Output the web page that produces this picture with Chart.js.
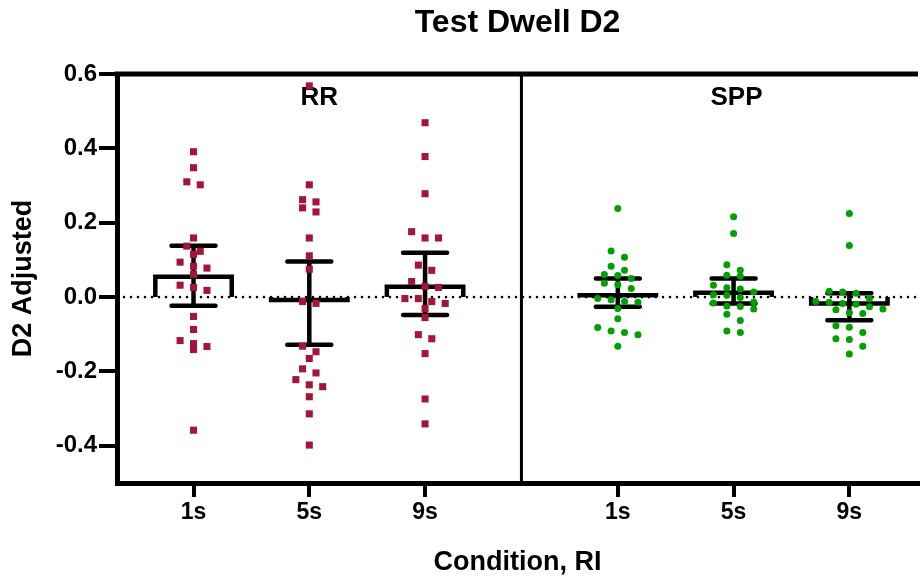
<!DOCTYPE html>
<html>
<head>
<meta charset="utf-8">
<title>Test Dwell D2</title>
<script src="https://cdn.jsdelivr.net/npm/chart.js@4"></script>
<style>
  html, body { margin: 0; padding: 0; background: #fff; overflow: hidden; }
  canvas { display: block; }
</style>
</head>
<body>
<canvas id="chart" width="923" height="579"></canvas>
<script>
// ---- values ----
const panels = ['RR', 'SPP'];
const conditions = ['1s', '5s', '9s'];
const yTicks = [-0.4, -0.2, 0, 0.2, 0.4, 0.6];

const rr1s = [0.391, 0.348, 0.310, 0.302, 0.159, 0.137, 0.123, 0.115, 0.094, 0.083, 0.078,
  0.061, 0.032, 0.026, 0.018, -0.052, -0.087, -0.117, -0.125, -0.133, -0.141, -0.358];
const rr5s = [0.568, 0.302, 0.262, 0.256, 0.240, 0.229, 0.159, 0.111, 0.075, -0.012, -0.017,
  -0.132, -0.147, -0.165, -0.193, -0.204, -0.222, -0.236, -0.241, -0.268, -0.314, -0.398];
const rr9s = [0.469, 0.378, 0.278, 0.176, 0.159, 0.159, 0.086, 0.072, 0.042, 0.029, 0.026,
  -0.004, -0.004, -0.012, -0.017, -0.031, -0.055, -0.101, -0.112, -0.152, -0.274, -0.341];

const spp1s = [0.238, 0.124, 0.107, 0.083, 0.072, 0.061, 0.058, 0.050, 0.037, 0.033, 0.023,
  -0.004, -0.007, -0.012, -0.014, -0.031, -0.058, -0.082, -0.091, -0.095, -0.101, -0.132];
const spp5s = [0.216, 0.171, 0.087, 0.072, 0.059, 0.056, 0.032, 0.025, 0.022, 0.014, 0.006,
  0.005, -0.001, -0.013, -0.016, -0.024, -0.025, -0.032, -0.046, -0.063, -0.091, -0.095];
const spp9s = [0.225, 0.139, 0.016, 0.014, 0.010, -0.004, -0.012, -0.014, -0.017, -0.019, -0.026,
  -0.032, -0.034, -0.042, -0.044, -0.077, -0.081, -0.095, -0.112, -0.114, -0.132, -0.153];

// mean with error bar ends
const rrMean  = [0.055, -0.008, 0.028];
const rrUpper = [0.138, 0.096, 0.119];
const rrLower = [-0.023, -0.128, -0.048];
const sppMean  = [0.005, 0.012, -0.017];
const sppUpper = [0.050, 0.050, 0.010];
const sppLower = [-0.026, -0.017, -0.062];

// ---- layout ----
const X_MIN = 0.339, X_MAX = 7.258;
const PANEL_SHIFT = 3.665;           // second panel starts this far right
const SEPARATOR = (3 + 1 + PANEL_SHIFT) / 2;
const MEAN_HALF = 0.33, CAP_HALF = 0.19;
const ROW_H = 0.021, STEP = 0.116;   // swarm spacing
const FONT = "'Liberation Sans', Arial, Helvetica, sans-serif";
const RED = '#A51538', GREEN = '#00A000';

const groupValues = [[rr1s, rr5s, rr9s], [spp1s, spp5s, spp9s]];
const groupMean = [rrMean, sppMean];
const groupUpper = [rrUpper, sppUpper];
const groupLower = [rrLower, sppLower];

const tickPositions = [];
const tickLabels = [];
panels.forEach((p, g) => conditions.forEach((c, i) => {
  tickPositions.push(1 + i + g * PANEL_SHIFT);
  tickLabels.push(c);
}));

// spread points sideways in rows, like a column scatter
function swarm(values, center) {
  const sorted = values.slice().sort((a, b) => b - a);
  const out = [];
  let i = 0;
  while (i < sorted.length) {
    let j = i + 1;
    while (j < sorted.length && sorted[i] - sorted[j] < ROW_H) j++;
    const n = j - i;
    for (let k = 0; k < n; k++) {
      out.push({ x: center + (k - (n - 1) / 2) * STEP, y: sorted[i + k] });
    }
    i = j;
  }
  return out;
}

const datasets = [];

panels.forEach((p, g) => {
  groupValues[g].forEach((vals, i) => {
    datasets.push({
      type: 'scatter',
      label: p + ' ' + conditions[i],
      data: swarm(vals, tickPositions[g * 3 + i]),
      pointStyle: g === 0 ? 'rect' : 'circle',
      pointRadius: g === 0 ? 5 : 3.5,
      pointBackgroundColor: g === 0 ? RED : GREEN,
      pointBorderWidth: 0,
      order: 0
    });
  });
});

const meanPath = [];
const errPath = [];
panels.forEach((p, g) => {
  groupMean[g].forEach((m, i) => {
    const cx = tickPositions[g * 3 + i];
    const hi = groupUpper[g][i], lo = groupLower[g][i];
    meanPath.push({ x: cx - MEAN_HALF, y: 0 }, { x: cx - MEAN_HALF, y: m },
      { x: cx + MEAN_HALF, y: m }, { x: cx + MEAN_HALF, y: 0 }, { x: cx, y: null });
    errPath.push({ x: cx, y: lo }, { x: cx, y: hi }, { x: cx, y: null },
      { x: cx - CAP_HALF, y: hi }, { x: cx + CAP_HALF, y: hi }, { x: cx, y: null },
      { x: cx - CAP_HALF, y: lo }, { x: cx + CAP_HALF, y: lo }, { x: cx, y: null });
  });
});

datasets.push({
  type: 'line', label: 'mean', data: meanPath,
  borderColor: '#000', borderWidth: 4.5, borderJoinStyle: 'miter', borderCapStyle: 'butt',
  pointRadius: 0, spanGaps: false, tension: 0, order: 1
});
datasets.push({
  type: 'line', label: 'error', data: errPath,
  borderColor: '#000', borderWidth: 4.5, borderCapStyle: 'round',
  pointRadius: 0, spanGaps: false, tension: 0, order: 1
});
datasets.push({
  type: 'line', label: 'zero', data: [{ x: X_MIN, y: 0 }, { x: X_MAX, y: 0 }],
  borderColor: '#000', borderWidth: 2.6, borderDash: [0, 7], borderCapStyle: 'round',
  pointRadius: 0, tension: 0, order: 2
});

// top frame line, panel divider and panel names
const panelPlugin = {
  id: 'panels',
  beforeDatasetsDraw(chart) {
    const { ctx, chartArea: a, scales: { x, y } } = chart;
    ctx.save();
    ctx.strokeStyle = '#000';
    ctx.lineWidth = 5;
    ctx.beginPath();
    ctx.moveTo(a.left - 2.5, a.top);
    ctx.lineTo(a.right, a.top);
    ctx.stroke();

    const sx = x.getPixelForValue(SEPARATOR);
    ctx.lineWidth = 3;
    ctx.beginPath();
    ctx.moveTo(sx, a.top);
    ctx.lineTo(sx, a.bottom);
    ctx.stroke();

    ctx.fillStyle = '#000';
    ctx.font = 'bold 26px ' + FONT;
    ctx.textAlign = 'center';
    ctx.textBaseline = 'middle';
    const ly = y.getPixelForValue(0.535);
    ctx.fillText(panels[0], x.getPixelForValue((X_MIN + SEPARATOR) / 2), ly);
    ctx.fillText(panels[1], x.getPixelForValue(tickPositions[4] + 0.025), ly);
    ctx.restore();
  }
};

Chart.defaults.font.family = FONT;
Chart.defaults.font.weight = 'bold';
Chart.defaults.color = '#000';

new Chart(document.getElementById('chart'), {
  type: 'scatter',
  data: { datasets },
  options: {
    responsive: false,
    animation: false,
    layout: { padding: 0 },
    plugins: {
      legend: { display: false },
      tooltip: { enabled: false },
      title: {
        display: true,
        text: 'Test Dwell D2',
        fullSize: false,
        color: '#000',
        font: { size: 32, weight: 'bold' },
        padding: { top: 4, bottom: 31.6 }
      }
    },
    scales: {
      x: {
        type: 'linear',
        min: X_MIN,
        max: X_MAX,
        afterBuildTicks: s => { s.ticks = tickPositions.map(v => ({ value: v })); },
        afterFit: s => { s.height = 96; },
        border: { display: true, color: '#000', width: 5 },
        grid: { drawOnChartArea: false, drawTicks: true, tickLength: 14, color: '#000', lineWidth: 4 },
        ticks: {
          color: '#000', font: { size: 23, weight: 'bold' }, padding: 2,
          autoSkip: false, maxRotation: 0,
          callback: (v, i) => tickLabels[i]
        },
        title: {
          display: true, text: 'Condition, RI', color: '#000',
          font: { size: 27, weight: 'bold' }, padding: { top: 0, bottom: 0 }
        }
      },
      y: {
        min: -0.5,
        max: 0.6,
        afterBuildTicks: s => { s.ticks = yTicks.map(v => ({ value: v })); },
        afterFit: s => { s.width = 117; },
        border: { display: true, color: '#000', width: 5 },
        grid: { drawOnChartArea: false, drawTicks: true, tickLength: 18, color: '#000', lineWidth: 4 },
        ticks: {
          color: '#000', font: { size: 24, weight: 'bold' }, padding: 2,
          callback: v => v.toFixed(1)
        },
        title: {
          display: true, text: 'D2 Adjusted', color: '#000',
          font: { size: 27, weight: 'bold' }, padding: { top: 7, bottom: 0 }
        }
      }
    }
  },
  plugins: [panelPlugin]
});
</script>
</body>
</html>
